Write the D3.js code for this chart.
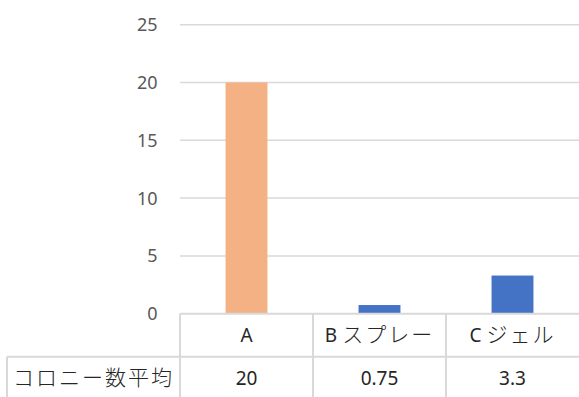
<!DOCTYPE html>
<html><head><meta charset="utf-8">
<script src="https://cdn.jsdelivr.net/npm/d3@7"></script>
<style>
html,body{margin:0;padding:0;background:#fff;}
svg{display:block;}
.lat{font-family:"Noto Sans","Open Sans",sans-serif;font-size:18px;}
.tbl{font-size:19px;}
.cjk{font-family:"Noto Sans CJK JP",sans-serif;font-size:21px;letter-spacing:2px;font-weight:300;}
</style></head>
<body>
<svg id="c" width="579" height="397"></svg>
<script>
const categories = ["A", "B スプレー", "C ジェル"];
const values = [20, 0.75, 3.3];
const valueLabels = ["20", "0.75", "3.3"];
const seriesName = "コロニー数平均";
const yTicks = [0, 5, 10, 15, 20, 25];
const barColors = ["#F4B183", "#4472C4", "#4472C4"];

const svg = d3.select("#c");
const W = 579, H = 397;
const plotL = 180, plotR = 579, plotT = 24.7, plotB = 313.7;
const rowH = 43;

const y = d3.scaleLinear().domain([0, 25]).range([plotB, plotT]);
const cols = d3.scaleBand().domain(categories).range([plotL, plotR]).padding(0);
const barFrac = 0.315;

// gridlines
svg.append("g").selectAll("line").data(yTicks.filter(t => t > 0)).join("line")
  .attr("x1", plotL).attr("x2", plotR)
  .attr("y1", d => y(d)).attr("y2", d => y(d))
  .attr("stroke", "#d9d9d9").attr("stroke-width", 1.5);

// y-axis labels
svg.append("g").selectAll("text").data(yTicks).join("text")
  .attr("class", "lat")
  .attr("x", 157.5).attr("y", d => y(d))
  .attr("dy", "0.36em")
  .attr("text-anchor", "end")
  .attr("fill", "#595959")
  .text(d => d);

// bars
svg.append("g").selectAll("rect").data(categories).join("rect")
  .attr("x", d => cols(d) + cols.bandwidth() * (1 - barFrac) / 2)
  .attr("width", cols.bandwidth() * barFrac)
  .attr("y", (d, i) => y(values[i]))
  .attr("height", (d, i) => y(0) - y(values[i]))
  .attr("fill", (d, i) => barColors[i]);

// data table lines
const tg = svg.append("g").attr("stroke", "#d9d9d9").attr("stroke-width", 2);
const row1 = y(0), row2 = y(0) + rowH;
tg.append("line").attr("x1", plotL).attr("x2", plotR).attr("y1", row1).attr("y2", row1);
tg.append("line").attr("x1", 7).attr("x2", plotR).attr("y1", row2).attr("y2", row2);
tg.selectAll("line.v").data(categories).join("line").attr("class", "v")
  .attr("x1", d => cols(d)).attr("x2", d => cols(d))
  .attr("y1", row1).attr("y2", H + 5);
tg.append("line").attr("x1", 7).attr("x2", 7).attr("y1", row2).attr("y2", H + 5);

// mixed-script text helper
function addMixed(sel, str) {
  const parts = str.match(/[\u3000-\u9fff\uff00-\uffef]+|[^\u3000-\u9fff\uff00-\uffef]+/g) || [];
  parts.forEach(p => {
    const isCjk = /[\u3000-\u9fff\uff00-\uffef]/.test(p);
    sel.append("tspan").attr("class", isCjk ? "cjk" : "lat tbl").text(p);
  });
}

// category row
svg.append("g").selectAll("text").data(categories).join("text")
  .attr("x", d => cols(d) + cols.bandwidth() / 2)
  .attr("y", row1 + rowH / 2)
  .attr("dy", "0.36em")
  .attr("text-anchor", "middle")
  .attr("fill", "#262626")
  .attr("class", "lat tbl")
  .each(function(d) { addMixed(d3.select(this), d); });

// value row
svg.append("g").selectAll("text").data(categories).join("text")
  .attr("class", "lat tbl")
  .attr("x", d => cols(d) + cols.bandwidth() / 2)
  .attr("y", row2 + rowH / 2)
  .attr("dy", "0.36em")
  .attr("text-anchor", "middle")
  .attr("fill", "#262626")
  .text((d, i) => valueLabels[i]);

// series name
svg.append("text")
  .attr("x", (7 + plotL) / 2)
  .attr("y", row2 + rowH / 2)
  .attr("dy", "0.36em")
  .attr("text-anchor", "middle")
  .attr("fill", "#262626")
  .attr("class", "lat tbl")
  .each(function() { addMixed(d3.select(this), seriesName); });
</script>
</body></html>
